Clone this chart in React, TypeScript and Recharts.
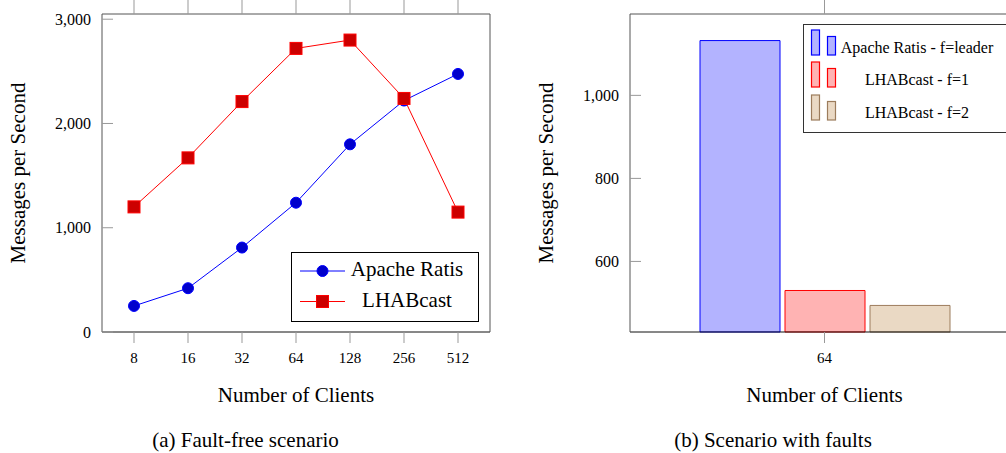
import React from 'react';
import { LineChart, Line, BarChart, Bar, XAxis, YAxis, Legend } from 'recharts';

// fault-free run: message rate per number of clients
const clients = ['8', '16', '32', '64', '128', '256', '512'];
const ratisRate = [250, 420, 810, 1240, 1800, 2220, 2475];
const lhabRate = [1200, 1670, 2210, 2720, 2800, 2240, 1150];
const rateTicks = [0, 1000, 2000, 3000];

// run with faults, 64 clients only
const faultClients = ['64'];
const ratisLeaderFault = [1132];
const lhabF1 = [530];
const lhabF2 = [494];
const faultTicks = [600, 800, 1000];

const serif = "'Liberation Serif', 'Times New Roman', serif";
const frame = '#555';
const tickGray = '#999';

const rateData = clients.map((c, i) => ({ clients: c, ratis: ratisRate[i], lhab: lhabRate[i] }));
const faultData = faultClients.map((c, i) => ({
  clients: c,
  ratis: ratisLeaderFault[i],
  f1: lhabF1[i],
  f2: lhabF2[i],
}));

const fmt = (v: number) => v.toLocaleString('en-US');
const noTick = () => <g />;

const SquareDot = (props: any) => {
  const { cx, cy, index } = props;
  if (cx == null || cy == null) return <g key={index} />;
  return (
    <rect key={index} x={cx - 6} y={cy - 6} width={12} height={12} fill="#cc0000" stroke="#ff0000" strokeWidth={1} />
  );
};

const RateLegend = () => (
  <svg width={188} height={70} style={{ display: 'block', fontFamily: serif }}>
    <rect x={0.5} y={0.5} width={187} height={69} fill="#fff" stroke="#000" />
    <line x1={9} x2={54} y1={19} y2={19} stroke="#0000ff" />
    <circle cx={31.5} cy={19} r={5.5} fill="#0000cc" stroke="#0000ff" />
    <text x={116} y={24} textAnchor="middle" fontSize={21}>Apache Ratis</text>
    <line x1={9} x2={54} y1={49.5} y2={49.5} stroke="#ff0000" />
    <rect x={25.5} y={43.5} width={12} height={12} fill="#cc0000" stroke="#ff0000" />
    <text x={116} y={54.5} textAnchor="middle" fontSize={21}>LHABcast</text>
  </svg>
);

const faultItems = [
  { name: 'Apache Ratis - f=leader', fill: '#b3b3ff', stroke: '#0000ff', top: 6, baseline: 28.5 },
  { name: 'LHABcast - f=1', fill: '#ffb3b3', stroke: '#ff0000', top: 38, baseline: 61 },
  { name: 'LHABcast - f=2', fill: '#ead9c4', stroke: '#9c7c5c', top: 71, baseline: 94 },
];

const FaultLegend = () => (
  <svg width={206} height={110} style={{ display: 'block', fontFamily: serif }}>
    <rect x={0.5} y={0.5} width={230} height={108} fill="#fff" stroke="#333" />
    {faultItems.map((it) => (
      <g key={it.name}>
        <rect x={8.5} y={it.top} width={8} height={25} fill={it.fill} stroke={it.stroke} strokeWidth={1.2} />
        <rect x={24.5} y={it.top + 6.5} width={8} height={18.5} fill={it.fill} stroke={it.stroke} strokeWidth={1.2} />
        <text x={114} y={it.baseline} textAnchor="middle" fontSize={16}>{it.name}</text>
      </g>
    ))}
  </svg>
);

const tickFont = { fontSize: 16, fill: '#000', fontFamily: serif };
const titleStyle = { fontSize: 21, fill: '#000', fontFamily: serif };

export default function App() {
  return (
    <div
      style={{
        position: 'absolute',
        left: 0,
        top: 0,
        width: 1006,
        height: 453,
        overflow: 'hidden',
        background: '#fff',
        fontFamily: serif,
      }}
    >
      <div style={{ position: 'absolute', left: 0, top: 0 }}>
        <LineChart width={500} height={453} data={rateData} margin={{ top: 0, right: 0, bottom: 50, left: 0 }}>
          <XAxis
            xAxisId="bottom"
            dataKey="clients"
            height={71}
            padding={{ left: 32, right: 32 }}
            interval={0}
            tickSize={11}
            tickMargin={9}
            tick={{ ...tickFont, fontSize: 15 }}
            tickLine={{ stroke: tickGray }}
            axisLine={{ stroke: '#111' }}
            label={{ value: 'Number of Clients', position: 'insideBottom', offset: 1, style: titleStyle }}
          />
          <XAxis
            xAxisId="top"
            orientation="top"
            dataKey="clients"
            height={14}
            padding={{ left: 32, right: 32 }}
            interval={0}
            tickSize={14}
            tick={noTick}
            tickLine={{ stroke: tickGray }}
            axisLine={{ stroke: frame }}
          />
          <YAxis
            yAxisId="left"
            width={102}
            domain={[0, 3050]}
            ticks={rateTicks}
            tickFormatter={fmt}
            tickSize={-11}
            tickMargin={22}
            tick={tickFont}
            tickLine={{ stroke: tickGray }}
            axisLine={{ stroke: frame }}
            label={{
              value: 'Messages per Second',
              angle: -90,
              position: 'insideLeft',
              offset: 17.5,
              style: { ...titleStyle, textAnchor: 'middle' },
            }}
          />
          <YAxis
            yAxisId="right"
            orientation="right"
            width={10}
            domain={[0, 3050]}
            ticks={rateTicks}
            tickSize={-10}
            tick={noTick}
            tickLine={{ stroke: tickGray }}
            axisLine={{ stroke: frame }}
          />
          <Legend
            layout="vertical"
            align="center"
            verticalAlign="middle"
            wrapperStyle={{ left: 291, top: 252, width: 188, height: 70 }}
            content={() => <RateLegend />}
          />
          <Line
            xAxisId="bottom"
            yAxisId="left"
            dataKey="ratis"
            name="Apache Ratis"
            stroke="#0000ff"
            strokeWidth={1}
            dot={{ r: 5.5, fill: '#0000cc', stroke: '#0000ff', strokeWidth: 1 }}
            isAnimationActive={false}
          />
          <Line
            xAxisId="bottom"
            yAxisId="left"
            dataKey="lhab"
            name="LHABcast"
            stroke="#ff0000"
            strokeWidth={1}
            dot={SquareDot}
            isAnimationActive={false}
          />
        </LineChart>
      </div>

      <div style={{ position: 'absolute', left: 520, top: 0 }}>
        <BarChart
          width={510}
          height={453}
          data={faultData}
          margin={{ top: 0, right: 0, bottom: 50, left: 0 }}
          barSize={80}
          barGap={5}
        >
          <XAxis
            xAxisId="bottom"
            dataKey="clients"
            height={71}
            tickSize={11}
            tickMargin={9}
            tick={{ ...tickFont, fontSize: 15 }}
            tickLine={{ stroke: tickGray }}
            axisLine={{ stroke: '#111' }}
            label={{ value: 'Number of Clients', position: 'insideBottom', offset: 1, style: titleStyle }}
          />
          <XAxis
            xAxisId="top"
            orientation="top"
            dataKey="clients"
            height={14}
            tickSize={14}
            tick={noTick}
            tickLine={{ stroke: tickGray }}
            axisLine={{ stroke: frame }}
          />
          <YAxis
            yAxisId="left"
            width={110}
            domain={[430, 1196]}
            ticks={faultTicks}
            tickFormatter={fmt}
            tickSize={-11}
            tickMargin={22}
            tick={tickFont}
            tickLine={{ stroke: tickGray }}
            axisLine={{ stroke: frame }}
            label={{
              value: 'Messages per Second',
              angle: -90,
              position: 'insideLeft',
              offset: 25.8,
              style: { ...titleStyle, textAnchor: 'middle' },
            }}
          />
          <YAxis
            yAxisId="right"
            orientation="right"
            width={11}
            domain={[430, 1196]}
            ticks={faultTicks}
            tickSize={-10}
            tick={noTick}
            tickLine={{ stroke: tickGray }}
            axisLine={{ stroke: frame }}
          />
          <Legend
            layout="vertical"
            align="center"
            verticalAlign="middle"
            wrapperStyle={{ left: 283, top: 24, width: 206, height: 110 }}
            content={() => <FaultLegend />}
          />
          <Bar xAxisId="bottom" yAxisId="left" dataKey="ratis" name="Apache Ratis - f=leader" fill="#b3b3ff" stroke="#0000ff" isAnimationActive={false} />
          <Bar xAxisId="bottom" yAxisId="left" dataKey="f1" name="LHABcast - f=1" fill="#ffb3b3" stroke="#ff0000" isAnimationActive={false} />
          <Bar xAxisId="bottom" yAxisId="left" dataKey="f2" name="LHABcast - f=2" fill="#ead9c4" stroke="#9c7c5c" isAnimationActive={false} />
        </BarChart>
      </div>

      <svg
        width={1006}
        height={453}
        style={{ position: 'absolute', left: 0, top: 0, pointerEvents: 'none' }}
      >
        <text x={245.5} y={447} textAnchor="middle" fontSize={21} fontFamily={serif}>
          (a) Fault-free scenario
        </text>
        <text x={773} y={447} textAnchor="middle" fontSize={21} fontFamily={serif}>
          (b) Scenario with faults
        </text>
      </svg>
    </div>
  );
}
